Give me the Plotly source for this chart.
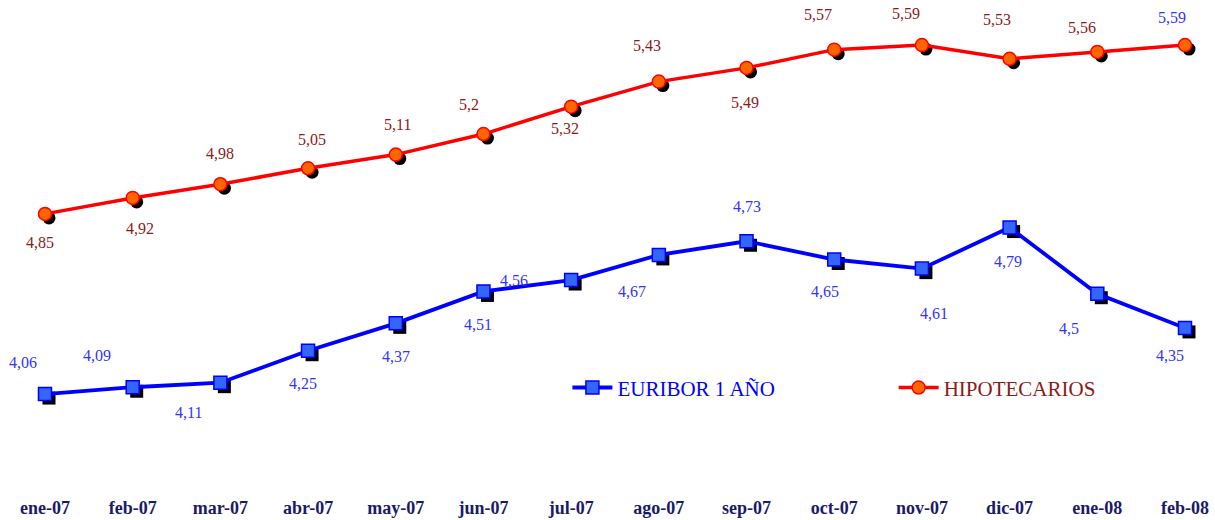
import plotly.graph_objects as go

# Monthly series, Jan 2007 - Feb 2008
meses = ["ene-07", "feb-07", "mar-07", "abr-07", "may-07", "jun-07", "jul-07",
         "ago-07", "sep-07", "oct-07", "nov-07", "dic-07", "ene-08", "feb-08"]
euribor = [4.06, 4.09, 4.11, 4.25, 4.37, 4.51, 4.56, 4.67, 4.73, 4.65, 4.61, 4.79, 4.50, 4.35]
hipotecarios = [4.85, 4.92, 4.98, 5.05, 5.11, 5.20, 5.32, 5.43, 5.49, 5.57, 5.59, 5.53, 5.56, 5.59]

# label placement (pixel offsets from each point)
euribor_off = [(-22, 32), (-36, 32), (-32, -30), (-5, -33), (0, -33), (-5, -33), (-57, 0),
               (-27, -37), (0, 35), (-9, -32), (12, -45), (-2, -34), (-28, -35), (-15, -28)]
hipo_off = [(-5, -29), (7, -31), (0, 31), (4, 29), (2, 30), (-14, 30), (-6, -22),
            (-12, 36), (-2, -35), (-16, 35), (-16, 32), (-13, 39), (-15, 24), (-13, 28)]

SERIF = "Liberation Serif"
BLUE = "#0000ff"
RED = "#ff0000"
DARKRED = "#8b1a1a"
LABEL_BLUE = "#3333ff"

x = list(range(len(meses)))
PX_X = 87.7   # pixels per category
PX_Y = 228.4  # pixels per unit
sx, sy = 4 / PX_X, 4 / PX_Y

fig = go.Figure()

# drop shadows under the markers
fig.add_trace(go.Scatter(x=[v + sx for v in x], y=[v - sy for v in euribor], mode="markers",
                         marker=dict(symbol="square", size=13, color="black"),
                         showlegend=False, hoverinfo="skip"))
fig.add_trace(go.Scatter(x=[v + sx for v in x], y=[v - sy for v in hipotecarios], mode="markers",
                         marker=dict(symbol="circle", size=13, color="black"),
                         showlegend=False, hoverinfo="skip"))

fig.add_trace(go.Scatter(x=x, y=euribor, mode="lines+markers", legend="legend",
                         name="<span style='color:#0000ff'>EURIBOR 1 AÑO</span>",
                         line=dict(color=BLUE, width=3.8),
                         marker=dict(symbol="square", size=13, color="#3366ff",
                                     line=dict(color=BLUE, width=1.5))))
fig.add_trace(go.Scatter(x=x, y=hipotecarios, mode="lines+markers", legend="legend2",
                         name="<span style='color:#8b1a1a'>HIPOTECARIOS</span>",
                         line=dict(color=RED, width=3.5),
                         marker=dict(symbol="circle", size=13, color="#ff6600",
                                     line=dict(color=RED, width=1.5))))

for i, (v, (dx, dy)) in enumerate(zip(euribor, euribor_off)):
    fig.add_annotation(x=i, y=v, text=f"{v:.2f}".rstrip("0").replace(".", ","),
                       showarrow=False, xshift=dx, yshift=dy,
                       font=dict(family=SERIF, size=16, color=LABEL_BLUE))
for i, (v, (dx, dy)) in enumerate(zip(hipotecarios, hipo_off)):
    col = LABEL_BLUE if i == len(hipotecarios) - 1 else DARKRED
    fig.add_annotation(x=i, y=v, text=f"{v:.2f}".rstrip("0").replace(".", ","),
                       showarrow=False, xshift=dx, yshift=dy,
                       font=dict(family=SERIF, size=16, color=col))

legend_style = dict(yanchor="middle", xanchor="left", y=0.232,
                    font=dict(family=SERIF, size=21), bgcolor="rgba(0,0,0,0)",
                    itemwidth=40)

fig.update_layout(
    width=1215, height=520,
    margin=dict(l=0, r=0, t=20, b=21, autoexpand=False),
    paper_bgcolor="white", plot_bgcolor="white",
    font=dict(family=SERIF),
    legend=dict(x=0.467, **legend_style),
    legend2=dict(x=0.7355, **legend_style),
    xaxis=dict(range=[-45 / PX_X, 13 + 30 / PX_X], tickmode="array", tickvals=x,
               ticktext=[f"<b>{m}</b>" for m in meses], showgrid=False, zeroline=False,
               showline=False, ticks="", ticklabelstandoff=-4,
               tickfont=dict(family=SERIF, size=18, color="#1a1a6a")),
    yaxis=dict(range=[3.6, 5.7], visible=False, showgrid=False, zeroline=False),
)

fig.write_html("out.html")
